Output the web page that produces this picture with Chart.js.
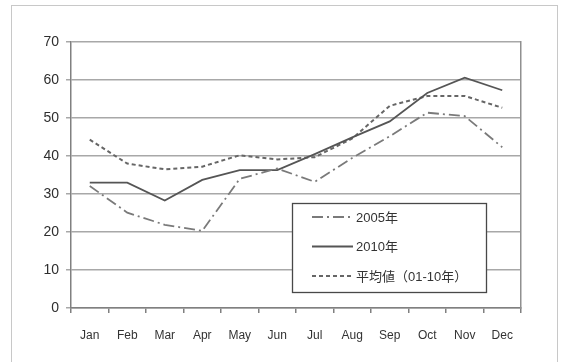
<!DOCTYPE html>
<html>
<head>
<meta charset="utf-8">
<script src="https://cdn.jsdelivr.net/npm/chart.js@4"></script>
<style>
  html, body { margin: 0; padding: 0; background: #fff; }
  #wrap { position: relative; width: 566px; height: 362px; }
</style>
</head>
<body>
<div id="wrap"><canvas id="chart" width="566" height="362"></canvas></div>
<script>
// --- data ---
const months = ['Jan', 'Feb', 'Mar', 'Apr', 'May', 'Jun', 'Jul', 'Aug', 'Sep', 'Oct', 'Nov', 'Dec'];
const y2005 = [32.1, 25.1, 21.9, 20.3, 34.0, 36.7, 33.2, 39.5, 45.2, 51.4, 50.5, 42.3];
const y2010 = [33.0, 33.0, 28.3, 33.7, 36.3, 36.3, 40.5, 44.9, 49.1, 56.6, 60.6, 57.3];
const avg0110 = [44.3, 38.0, 36.5, 37.2, 40.2, 39.1, 39.7, 44.6, 53.2, 55.8, 55.8, 52.7];
const legendNames = ['2005年', '2010年', '平均値（01-10年）'];

const FONT = '"Liberation Sans", "Noto Sans CJK JP", sans-serif';

// outer frame drawn on the canvas
const framePlugin = {
  id: 'frame',
  beforeDraw(chart) {
    const c = chart.ctx;
    c.save();
    c.strokeStyle = '#c8c8c8';
    c.lineWidth = 1;
    c.strokeRect(11.5, 5.5, 546, 400);
    c.restore();
  }
};

// boxed legend inside the plot, samples use each dataset's own style
const boxLegend = {
  id: 'boxLegend',
  afterDatasetsDraw(chart) {
    const c = chart.ctx;
    const x = 292, y = 203, w = 194, h = 89;
    c.save();
    c.fillStyle = '#fff';
    c.fillRect(x, y, w, h);
    c.strokeStyle = '#484848';
    c.lineWidth = 1.3;
    c.strokeRect(x + 0.5, y + 0.5, w, h);
    const rows = [217, 246.5, 276];
    chart.data.datasets.forEach((ds, i) => {
      c.strokeStyle = ds.borderColor;
      c.lineWidth = ds.borderWidth;
      c.setLineDash(ds.borderDash || []);
      c.beginPath();
      c.moveTo(312, rows[i]);
      c.lineTo(353, rows[i]);
      c.stroke();
      c.setLineDash([]);
      c.fillStyle = '#333';
      c.font = '13px ' + FONT;
      c.textBaseline = 'middle';
      c.fillText(ds.label, 356, rows[i] + 1);
    });
    c.restore();
  }
};

new Chart(document.getElementById('chart'), {
  type: 'line',
  data: {
    labels: months,
    datasets: [
      { label: legendNames[0], data: y2005, borderColor: '#7a7a7a', borderWidth: 1.8,
        borderDash: [11, 4, 2, 4], pointRadius: 0, tension: 0 },
      { label: legendNames[1], data: y2010, borderColor: '#555', borderWidth: 1.8,
        pointRadius: 0, tension: 0 },
      { label: legendNames[2], data: avg0110, borderColor: '#666', borderWidth: 2,
        borderDash: [4, 3], pointRadius: 0, tension: 0 }
    ]
  },
  options: {
    responsive: false,
    animation: false,
    layout: { padding: { top: 42, right: 0, bottom: 0, left: 0 } },
    plugins: { legend: { display: false }, tooltip: { enabled: false } },
    scales: {
      x: {
        offset: true,
        grid: { offset: true, drawOnChartArea: false, drawTicks: true, tickLength: 5, color: '#808080', lineWidth: 1.5 },
        border: { color: '#808080', width: 1.5 },
        ticks: { color: '#333', font: { family: FONT, size: 12 }, padding: 15, maxRotation: 0 },
        afterFit(scale) { scale.height = 54; }
      },
      y: {
        min: 0, max: 70,
        ticks: { stepSize: 10, color: '#2e2e2e', font: { family: FONT, size: 14 }, padding: 7 },
        grid: { color: '#a8a8a8', lineWidth: 1.5, tickLength: 5 },
        border: { color: '#808080', width: 1.5 },
        afterFit(scale) { scale.width = 71; }
      },
      yr: {
        position: 'right',
        min: 0, max: 70,
        ticks: { display: false },
        grid: { drawOnChartArea: false, drawTicks: false },
        border: { color: '#909090', width: 1.5 },
        afterFit(scale) { scale.width = 45; }
      }
    }
  },
  plugins: [framePlugin, boxLegend]
});
</script>
</body>
</html>
